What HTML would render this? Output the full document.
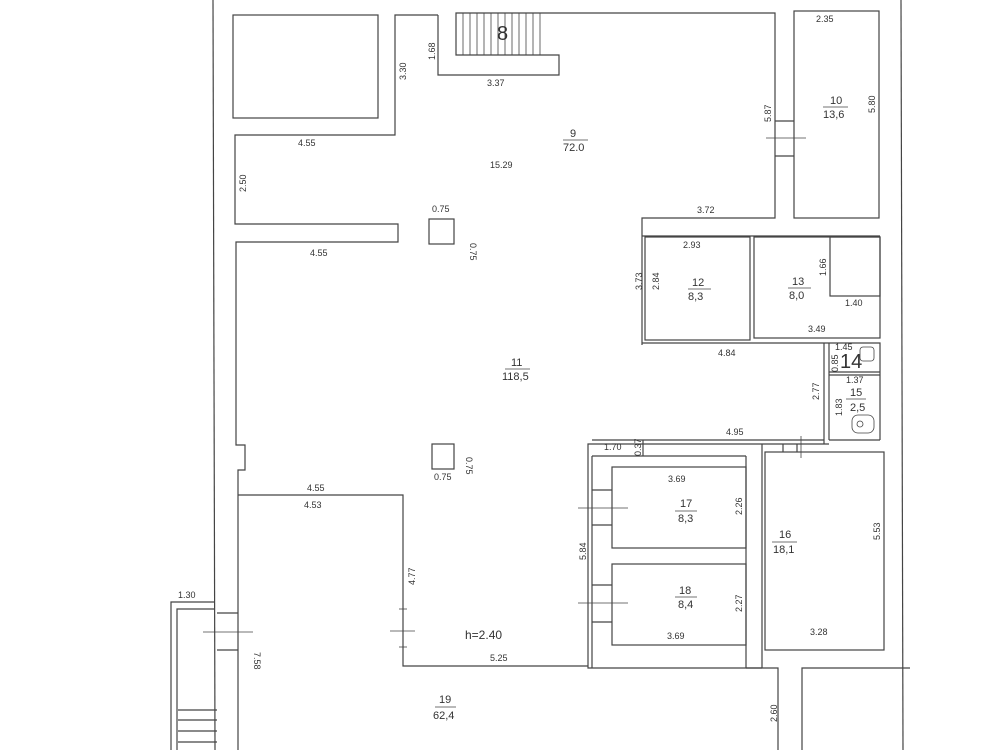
<!DOCTYPE html>
<html><head><style>
html,body{margin:0;padding:0;background:#fff;}
svg{display:block;}
text{font-family:"Liberation Sans",sans-serif;fill:#333;font-size:9px;}
.n{font-size:11px;}
</style></head><body>
<svg width="1000" height="750" viewBox="0 0 1000 750" xmlns="http://www.w3.org/2000/svg">
<g stroke="#444" stroke-width="1.2" fill="none">
<line x1="213" y1="0" x2="215" y2="750"/>
<line x1="901" y1="0" x2="903" y2="750"/>
<rect x="233" y="15" width="145" height="103"/>
<polyline points="438,15 395,15 395,135 235,135 235,224 398,224 398,242 236,242 236,445 245,445 245,470 238,470 238,750"/>
<polyline points="438,15 438,75 559,75 559,55 456,55 456,13 775,13 775,218 642,218 642,345"/>
<g stroke-width="0.8">
<line x1="463" y1="13" x2="463" y2="55"/><line x1="470" y1="13" x2="470" y2="55"/>
<line x1="477" y1="13" x2="477" y2="55"/><line x1="484" y1="13" x2="484" y2="55"/>
<line x1="491" y1="13" x2="491" y2="55"/><line x1="498" y1="13" x2="498" y2="55"/>
<line x1="505" y1="13" x2="505" y2="55"/><line x1="512" y1="13" x2="512" y2="55"/>
<line x1="519" y1="13" x2="519" y2="55"/><line x1="526" y1="13" x2="526" y2="55"/>
<line x1="533" y1="13" x2="533" y2="55"/><line x1="540" y1="13" x2="540" y2="55"/>
</g>
<rect x="794" y="11" width="85" height="207"/>
<line x1="775" y1="121" x2="794" y2="121"/><line x1="775" y1="156" x2="794" y2="156"/>
<line x1="766" y1="138" x2="806" y2="138" stroke-width="0.8"/>
<line x1="642" y1="236" x2="880" y2="236"/>
<rect x="645" y="237" width="105" height="103"/>
<rect x="754" y="237" width="126" height="101"/>
<rect x="830" y="237" width="50" height="59"/>
<line x1="642" y1="343" x2="824" y2="343"/>
<polyline points="824,343 880,343 880,440"/>
<line x1="824" y1="343" x2="824" y2="444"/>
<line x1="829" y1="343" x2="829" y2="440"/>
<line x1="829" y1="372" x2="880" y2="372"/>
<line x1="829" y1="375" x2="880" y2="375"/>
<line x1="829" y1="440" x2="880" y2="440"/>
<rect x="852" y="415" width="22" height="18" rx="6" stroke-width="0.8"/>
<circle cx="860" cy="424" r="3" stroke-width="0.8"/>
<rect x="860" y="347" width="14" height="14" rx="3" stroke-width="0.8"/>
<polyline points="829,444 588,444 588,668 762,668"/>
<line x1="592" y1="440" x2="824" y2="440"/>
<line x1="643" y1="440" x2="643" y2="456"/>
<line x1="592" y1="456" x2="746" y2="456"/>
<line x1="592" y1="456" x2="592" y2="668"/>
<rect x="612" y="467" width="134" height="81"/>
<rect x="612" y="564" width="134" height="81"/>
<line x1="746" y1="456" x2="746" y2="668"/>
<line x1="592" y1="490" x2="612" y2="490"/><line x1="592" y1="525" x2="612" y2="525"/>
<line x1="578" y1="508" x2="628" y2="508" stroke-width="0.8"/>
<line x1="592" y1="585" x2="612" y2="585"/><line x1="592" y1="622" x2="612" y2="622"/>
<line x1="578" y1="603" x2="628" y2="603" stroke-width="0.8"/>
<rect x="765" y="452" width="119" height="198"/>
<line x1="762" y1="444" x2="762" y2="668"/>
<line x1="783" y1="444" x2="783" y2="452"/><line x1="797" y1="444" x2="797" y2="452"/>
<line x1="801" y1="436" x2="801" y2="458" stroke-width="0.8"/>
<polyline points="746,668 778,668 778,750"/>
<polyline points="802,750 802,668 910,668"/>
<polyline points="238,495 403,495 403,666 588,666"/>
<line x1="399" y1="609" x2="407" y2="609" stroke-width="0.8"/>
<line x1="399" y1="647" x2="407" y2="647" stroke-width="0.8"/>
<line x1="390" y1="631" x2="415" y2="631" stroke-width="0.8"/>
<rect x="429" y="219" width="25" height="25"/>
<rect x="432" y="444" width="22" height="25"/>
<polyline points="171,750 171,602 215,602"/>
<polyline points="177,750 177,609 215,609"/>
<line x1="217" y1="613" x2="238" y2="613"/><line x1="217" y1="650" x2="238" y2="650"/>
<line x1="203" y1="632" x2="253" y2="632" stroke-width="0.8"/>
<line x1="178" y1="710" x2="217" y2="710"/><line x1="178" y1="720" x2="217" y2="720"/>
<line x1="178" y1="731" x2="217" y2="731"/><line x1="178" y1="742" x2="217" y2="742"/>
<g stroke-width="0.8">
<line x1="563" y1="140" x2="588" y2="140"/>
<line x1="823" y1="107" x2="848" y2="107"/>
<line x1="688" y1="289" x2="711" y2="289"/>
<line x1="788" y1="288" x2="811" y2="288"/>
<line x1="505" y1="369" x2="530" y2="369"/>
<line x1="846" y1="399" x2="866" y2="399"/>
<line x1="675" y1="511" x2="697" y2="511"/>
<line x1="675" y1="597" x2="697" y2="597"/>
<line x1="772" y1="542" x2="797" y2="542"/>
<line x1="435" y1="707" x2="456" y2="707"/>
</g>
</g>
<text x="497" y="40" style="font-size:20px">8</text>
<text x="487" y="86">3.37</text>
<text transform="translate(435,60) rotate(-90)">1.68</text>
<text transform="translate(406,80) rotate(-90)">3.30</text>
<text x="298" y="146">4.55</text>
<text transform="translate(246,192) rotate(-90)">2.50</text>
<text x="310" y="256">4.55</text>
<text x="490" y="168">15.29</text>
<text x="432" y="212">0.75</text>
<text transform="translate(470,243) rotate(90)">0.75</text>
<text class="n" x="570" y="137">9</text>
<text class="n" x="563" y="151">72.0</text>
<text x="816" y="22">2.35</text>
<text class="n" x="830" y="104">10</text>
<text class="n" x="823" y="118">13,6</text>
<text transform="translate(875,113) rotate(-90)">5.80</text>
<text transform="translate(771,122) rotate(-90)">5.87</text>
<text x="697" y="213">3.72</text>
<text x="683" y="248">2.93</text>
<text transform="translate(642,290) rotate(-90)">3.73</text>
<text transform="translate(659,290) rotate(-90)">2.84</text>
<text class="n" x="692" y="286">12</text>
<text class="n" x="688" y="300">8,3</text>
<text class="n" x="792" y="285">13</text>
<text class="n" x="789" y="299">8,0</text>
<text transform="translate(826,276) rotate(-90)">1.66</text>
<text x="845" y="306">1.40</text>
<text x="808" y="332">3.49</text>
<text x="718" y="356">4.84</text>
<text x="835" y="350">1.45</text>
<text transform="translate(838,372) rotate(-90)">0.85</text>
<text x="840" y="368" style="font-size:20px">14</text>
<text x="846" y="383">1.37</text>
<text class="n" x="850" y="396">15</text>
<text class="n" x="850" y="411">2,5</text>
<text transform="translate(842,416) rotate(-90)">1.83</text>
<text transform="translate(819,400) rotate(-90)">2.77</text>
<text class="n" x="511" y="366">11</text>
<text class="n" x="502" y="380">118,5</text>
<text x="726" y="435">4.95</text>
<text x="604" y="450">1.70</text>
<text transform="translate(641,456) rotate(-90)">0.37</text>
<text x="434" y="480">0.75</text>
<text transform="translate(466,457) rotate(90)">0.75</text>
<text x="307" y="491">4.55</text>
<text x="304" y="508">4.53</text>
<text x="668" y="482">3.69</text>
<text class="n" x="680" y="507">17</text>
<text class="n" x="678" y="522">8,3</text>
<text transform="translate(742,515) rotate(-90)">2.26</text>
<text transform="translate(586,560) rotate(-90)">5.84</text>
<text class="n" x="679" y="594">18</text>
<text class="n" x="678" y="608">8,4</text>
<text transform="translate(742,612) rotate(-90)">2.27</text>
<text x="667" y="639">3.69</text>
<text class="n" x="779" y="538">16</text>
<text class="n" x="773" y="553">18,1</text>
<text transform="translate(880,540) rotate(-90)">5.53</text>
<text x="810" y="635">3.28</text>
<text transform="translate(415,585) rotate(-90)">4.77</text>
<text x="465" y="639" style="font-size:12px">h=2.40</text>
<text x="490" y="661">5.25</text>
<text x="178" y="598">1.30</text>
<text transform="translate(254,652) rotate(90)">7.58</text>
<text class="n" x="439" y="703">19</text>
<text class="n" x="433" y="719">62,4</text>
<text transform="translate(777,722) rotate(-90)">2.60</text>
</svg>
</body></html>
